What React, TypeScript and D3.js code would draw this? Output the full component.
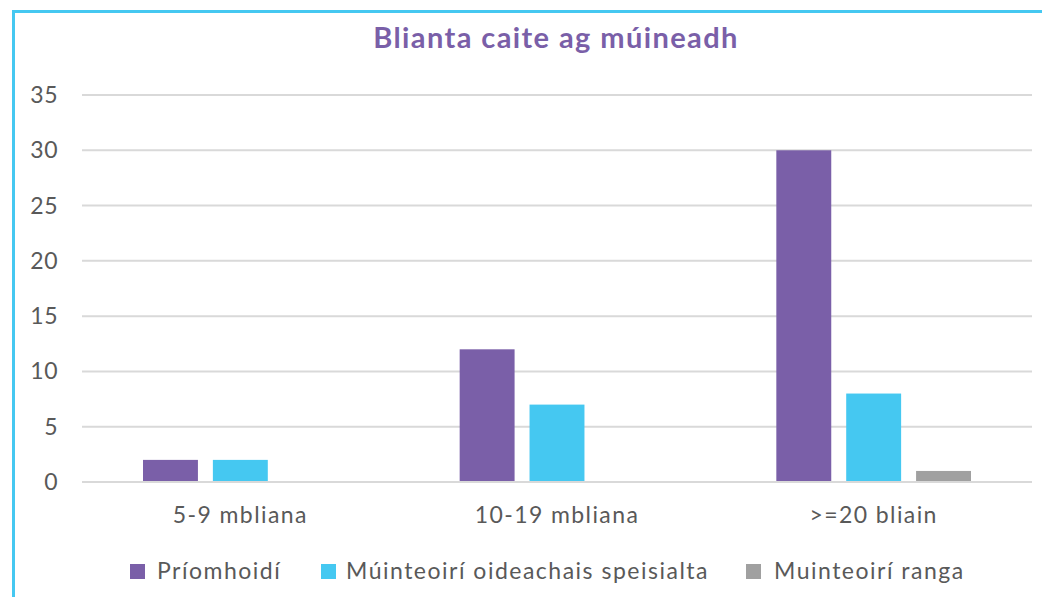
import React, { useEffect } from 'react';
import * as d3 from 'd3';

const categories = ['5-9 mbliana', '10-19 mbliana', '>=20 bliain'];
const seriesNames = ['Príomhoidí', 'Múinteoirí oideachais speisialta', 'Muinteoirí ranga'];
const priomhoidi = [2, 12, 30];
const speisialta = [2, 7, 8];
const ranga = [0, 0, 1];
const yTicks = [0, 5, 10, 15, 20, 25, 30, 35];

const seriesColors = ['#7A5FA8', '#45C8F1', '#A0A0A0'];
const W = 1042;
const H = 597;
const FONT = 'Lato, "Open Sans", sans-serif';

export default function App() {
    useEffect(() => {
        document.body.style.margin = '0';
    }, []);

    const series = [priomhoidi, speisialta, ranga];

    const x0 = d3.scaleBand<string>().domain(categories).range([82, 1032]).paddingInner(0).paddingOuter(0);
    const x1 = d3
        .scaleBand<number>()
        .domain([0, 1, 2])
        .range([61, x0.bandwidth() - 61])
        .paddingInner(0.214);
    const y = d3.scaleLinear().domain([0, 35]).range([482, 95]);

    const legendX = [130, 321, 746];
    const legendTextX = [157, 346, 774];

    return (
        <svg width={W} height={H} style={{ display: 'block', background: '#fff' }}>
            <rect x={13.5} y={11.5} width={W + 10} height={H + 10} fill="none" stroke="#45C8F1" strokeWidth={3} />

            <text
                x={556}
                y={48}
                textAnchor="middle"
                fill="#7A5FA8"
                fontFamily={FONT}
                fontWeight={700}
                fontSize={29}
                letterSpacing={1.4}
            >
                Blianta caite ag múineadh
            </text>

            {/* gridlines */}
            {yTicks.map((t) => (
                <g key={t}>
                    <line x1={82} x2={1032} y1={y(t)} y2={y(t)} stroke="#D9D9D9" strokeWidth={2} />
                    <text
                        x={58}
                        y={y(t) + 8}
                        textAnchor="end"
                        fill="#595959"
                        fontFamily={FONT}
                        fontSize={23}
                        letterSpacing={0.5}
                    >
                        {t}
                    </text>
                </g>
            ))}

            {/* bars */}
            {categories.map((c, ci) => (
                <g key={c} transform={`translate(${x0(c)},0)`}>
                    {series.map((s, si) =>
                        s[ci] > 0 ? (
                            <rect
                                key={si}
                                x={x1(si)}
                                width={x1.bandwidth()}
                                y={y(s[ci])}
                                height={y(0) - y(s[ci]) - 1}
                                fill={seriesColors[si]}
                            />
                        ) : null
                    )}
                    <text
                        x={x0.bandwidth() / 2}
                        y={523}
                        textAnchor="middle"
                        fill="#595959"
                        fontFamily={FONT}
                        fontSize={23}
                        letterSpacing={1.4}
                    >
                        {c}
                    </text>
                </g>
            ))}

            {/* legend */}
            {seriesNames.map((n, i) => (
                <g key={n}>
                    <rect x={legendX[i]} y={564} width={15} height={15} fill={seriesColors[i]} />
                    <text
                        x={legendTextX[i]}
                        y={579}
                        fill="#595959"
                        fontFamily={FONT}
                        fontSize={23}
                        letterSpacing={1.5}
                    >
                        {n}
                    </text>
                </g>
            ))}
        </svg>
    );
}
